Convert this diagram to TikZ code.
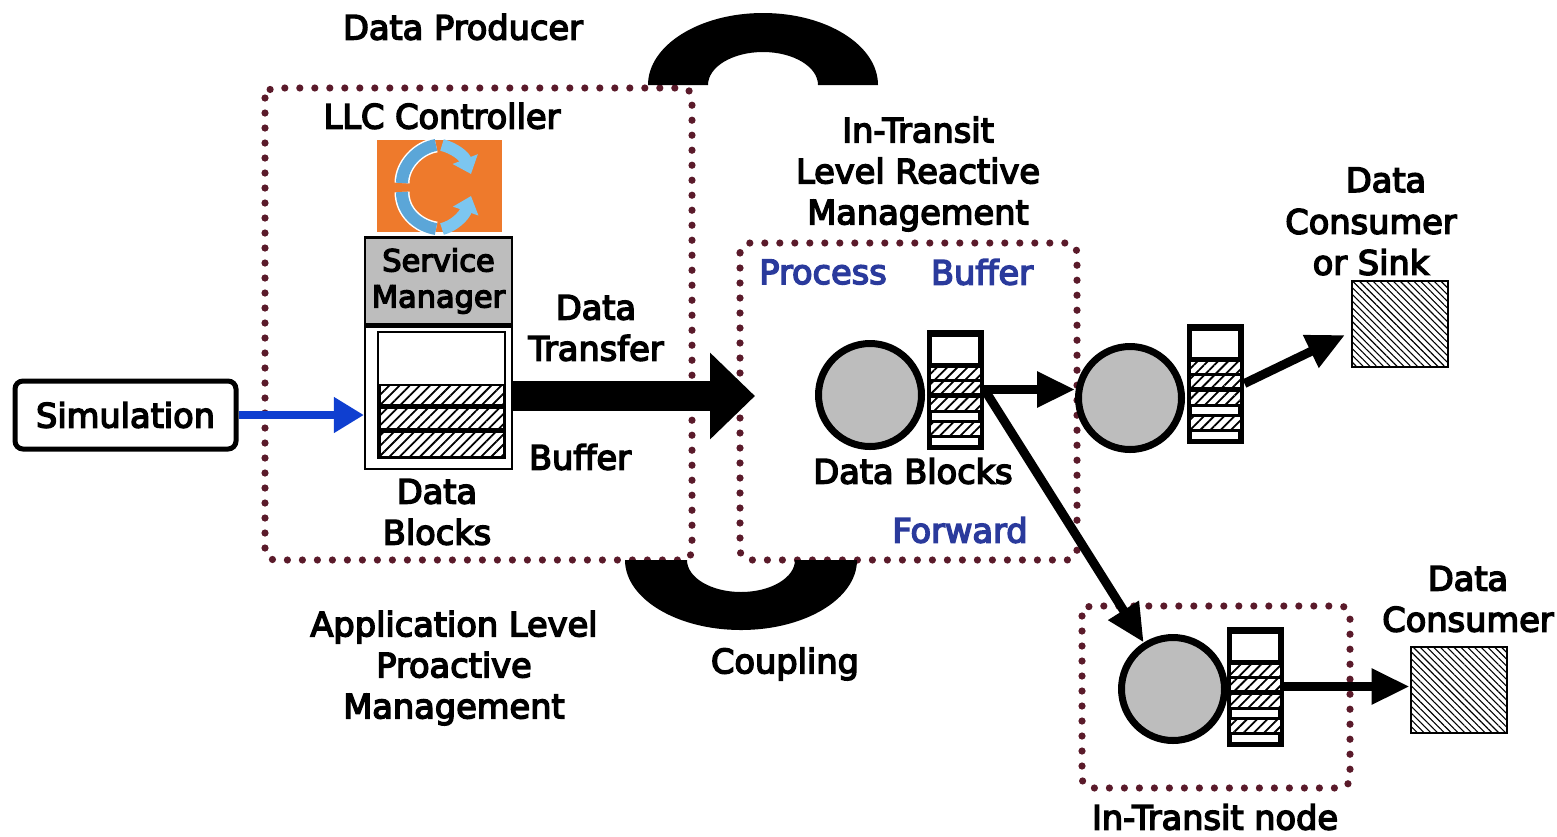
\documentclass[tikz,border=0pt]{standalone}
\usepackage{fontspec}
\setmainfont[FakeBold=4.5]{DejaVu Sans}
\usetikzlibrary{arrows.meta,patterns.meta}
\definecolor{dotc}{HTML}{5A1A2A}
\definecolor{procblue}{HTML}{2A3A9C}
\definecolor{arrowblue}{HTML}{0F3FD0}
\definecolor{sgray}{HTML}{BDBDBD}
\definecolor{logoor}{HTML}{EE7A2C}
\definecolor{logod}{HTML}{5BA6D8}
\definecolor{logol}{HTML}{7CC6F0}
\tikzset{
  dotbox/.style={draw=dotc,line width=3.6pt,line cap=round,rounded corners=5pt,dash pattern=on 0pt off 7.5pt},
  lbl/.style={font=\fontsize{16.8pt}{20.5pt}\selectfont,text=black,align=center,inner sep=0pt},
  bluelbl/.style={lbl,text=procblue},
  circ/.style={circle,draw=black,line width=3.5pt,fill=sgray,inner sep=0pt,minimum size=51.5pt},
  stackbox/.style={rectangle,fill=black,inner sep=0pt,minimum width=28.5pt,minimum height=60pt},
  sinkbox/.style={rectangle,draw=black,line width=1pt,inner sep=0pt,minimum width=48pt,minimum height=43pt,pattern={Lines[angle=-45,distance=2.4pt,line width=.55pt]}},
  band/.style={pattern={Lines[angle=45,distance=3.6pt,line width=.9pt]}},
  conn/.style={line width=4.5pt,-{Triangle[length=19pt,width=17pt]}},
  logoarc/.style={line width=6pt}
}
\newcommand{\smallstack}[3]{%
  \node[stackbox] (#1) at (#2+28.5,#3+61.5) {};
  \begin{scope}[shift={(#2,#3)}]
    \fill[white] (5,9) rectangle (51,35);
    \foreach \ya/\yb in {40/51,54/65,70/82,95/107}{
      \fill[white] (4,\ya) rectangle (53,\yb);
      \path[band] (4,\ya) rectangle (53,\yb);}
    \fill[white] (5,85) rectangle (51,92);
    \fill[white] (5,110) rectangle (51,117);
  \end{scope}}
\begin{document}
\begin{tikzpicture}[x=0.5pt,y=-0.5pt]
\useasboundingbox (0,0) rectangle (1557,836);
% dotted regions
\draw[dotbox] (265,88) rectangle (692,560);
\draw[dotbox] (740,243) rectangle (1077,560);
\draw[dotbox] (1082,606) rectangle (1350,788);
% coupling arcs
\fill[black] (648,85) arc[start angle=180,end angle=0,x radius=57.5pt,y radius=36pt]
  -- (818,85) arc[start angle=0,end angle=180,x radius=27.5pt,y radius=16.5pt] -- cycle;
\fill[black] (625,560) arc[start angle=180,end angle=360,x radius=58pt,y radius=35pt]
  -- (795,560) arc[start angle=360,end angle=180,x radius=27pt,y radius=16pt] -- cycle;
% logo
\node[rectangle,fill=logoor,inner sep=0pt,minimum width=62.5pt,minimum height=46pt] (logo) at (439.5,186) {};
\begin{scope}
  \draw[white,logoarc,line width=7.5pt] (402,183) .. controls (402,165) and (418,148) .. (436,145);
  \draw[white,logoarc,line width=7.5pt] (402,192) .. controls (402,212) and (418,226) .. (436,229);
  \draw[logod,logoarc] (402,183) .. controls (402,165) and (418,148) .. (436,145);
  \draw[logod,logoarc] (402,192) .. controls (402,212) and (418,226) .. (436,229);
  \draw[logol,logoarc,-{Triangle[length=8pt,width=13pt]}] (442,145) .. controls (454,148) and (464,156) .. (471,174);
  \draw[logol,logoarc,-{Triangle[length=8pt,width=13pt]}] (442,229) .. controls (454,226) and (464,216) .. (471,196);
\end{scope}
% service manager and buffer
\node[rectangle,draw=black,line width=1.4pt,fill=sgray,inner sep=0pt,minimum width=73.5pt,minimum height=43.5pt,lbl,font=\fontsize{15.2pt}{18pt}\selectfont] (sm) at (438.5,281) {Service\\Manager};
\node[rectangle,draw=black,line width=1.1pt,fill=white,inner sep=0pt,minimum width=73.5pt,minimum height=71pt] (bufout) at (438.5,398) {};
\node[rectangle,draw=black,line width=1.1pt,fill=white,inner sep=0pt,minimum width=63.5pt,minimum height=63pt] (bufin) at (441.5,395) {};
\fill[black] (379,384) rectangle (505,458);
\foreach \ya/\yb in {386/404,409/428,433/456}{
  \fill[white] (381,\ya) rectangle (503,\yb);
  \path[band] (381,\ya) rectangle (503,\yb);}
% simulation
\node[rectangle,draw=black,line width=2.5pt,rounded corners=4pt,inner sep=0pt,minimum width=110.5pt,minimum height=34pt,lbl,fill=white] (sim) at (125.5,415) {Simulation};
% circles and stacks
\node[circ] (c1) at (870,395) {};
\node[circ] (c2) at (1130,398) {};
\node[circ] (c3) at (1173,689) {};
\smallstack{s1}{927}{328}
\smallstack{s2}{1187}{322}
\smallstack{s3}{1227}{625}
% sinks
\node[sinkbox] (sink1) at (1399.5,323.5) {};
\node[sinkbox] (sink2) at (1458.5,689.5) {};
% connectors
\coordinate (bigtip) at (755,396);
\draw[line width=15pt,-{Triangle[length=22.5pt,width=42pt]}] (bufout.east |- bigtip) -- (bigtip);
\draw[line width=4pt,arrowblue,-{Triangle[length=15pt,width=17pt]}] (sim.east) -- (bufout.west |- sim.east);
\draw[conn] (s1.east) -- (s1.east -| c2.west);
\draw[conn] (s1.east) -- (c3);
\coordinate (sinktip) at (1345,335);
\draw[conn] (s2.east) -- (sinktip);
\draw[conn] (s3.east) -- (s3.east -| sink2.west);
% labels
\node[lbl] (tprod) at (463,27) {Data Producer};
\node[lbl] (tllc) at (442,116) {LLC Controller};
\node[lbl] (titl) at (918,174) {In-Transit\\Level Reactive\\Management};
\node[bluelbl] (tproc) at (823,272) {Process};
\node[bluelbl] (tbuf1) at (982,272) {Buffer};
\node[lbl] (tdc1) at (1386,180) {Data};
\node[lbl] (tdc2) at (1371,242) {Consumer\\or Sink};
\node[lbl] (ttrans) at (596,328) {Data\\Transfer};
\node[lbl] (tbuf2) at (580,457) {Buffer};
\node[lbl] (tblk) at (437,512) {Data\\Blocks};
\node[lbl] (tblk2) at (913,471) {Data Blocks};
\node[bluelbl] (tfwd) at (960,530) {Forward};
\node[lbl] (tapp) at (454,668) {Application Level\\Proactive\\Management};
\node[lbl] (tcoup) at (785,664) {Coupling};
\node[lbl] (tdc3) at (1468,599) {Data\\Consumer};
\node[lbl] (tnode) at (1215,817) {In-Transit node};
\end{tikzpicture}
\end{document}
